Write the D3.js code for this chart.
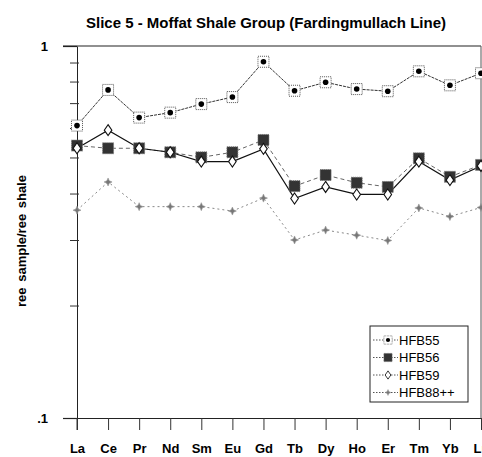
<!DOCTYPE html>
<head>
<meta charset="utf-8">
<script src="https://cdn.jsdelivr.net/npm/d3@7"></script>
<style>
body { margin: 0; background: #fff; }
text { font-family: "Liberation Sans", Arial, sans-serif; }
</style>
</head>
<svg width="482" height="457"></svg>
<script>
// rare earth elements along the x axis
var elements = ["La","Ce","Pr","Nd","Sm","Eu","Gd","Tb","Dy","Ho","Er","Tm","Yb","Lu"];

// ree sample / ree shale
var hfb55  = [0.611,0.762,0.642,0.662,0.698,0.729,0.907,0.758,0.799,0.766,0.756,0.855,0.784,0.845];
var hfb56  = [0.540,0.531,0.531,0.518,0.502,0.518,0.559,0.420,0.450,0.429,0.418,0.499,0.445,0.479];
var hfb59  = [0.531,0.594,0.531,0.518,0.489,0.489,0.529,0.389,0.418,0.399,0.399,0.489,0.436,0.476];
var hfb88  = [0.362,0.431,0.370,0.370,0.370,0.360,0.390,0.301,0.320,0.310,0.300,0.367,0.348,0.368];

var seriesNames = ["HFB55","HFB56","HFB59","HFB88++"];
var majorTicks = [0.1, 1];
var minorTicks = [0.2,0.3,0.4,0.5,0.6,0.7,0.8,0.9];

var svg = d3.select("svg"),
    plotL = 77, plotR = 481, plotT = 46, plotB = 418;

var x = d3.scalePoint().domain(elements).range([plotL, plotR]);
var y = d3.scaleLog().domain([0.1, 1]).range([plotB, plotT]);

var series = [
  {name: seriesNames[0], values: hfb55, dash: "3,1", stroke: "#333", width: 1, marker: "sqdot"},
  {name: seriesNames[1], values: hfb56, dash: "4,3", stroke: "#666", width: 1, marker: "sqfill"},
  {name: seriesNames[2], values: hfb59, dash: null,  stroke: "#111", width: 1.2, marker: "diamond"},
  {name: seriesNames[3], values: hfb88, dash: "2,3", stroke: "#888", width: 1, marker: "star"}
];

// title
svg.append("text")
  .attr("x", 266).attr("y", 28)
  .attr("text-anchor", "middle")
  .attr("font-size", 15).attr("font-weight", "bold")
  .text("Slice 5 - Moffat Shale Group (Fardingmullach Line)");

// y label
svg.append("text")
  .attr("transform", "translate(26,241) rotate(-90)")
  .attr("text-anchor", "middle")
  .attr("font-size", 13).attr("font-weight", "bold")
  .attr("word-spacing", 2)
  .text("ree sample/ree shale");

// frame top + right
svg.append("line").attr("x1", 63).attr("x2", plotR).attr("y1", plotT).attr("y2", plotT)
  .attr("stroke", "#222").attr("stroke-width", 1.2);
svg.append("line").attr("x1", plotR).attr("x2", plotR).attr("y1", plotT).attr("y2", plotB)
  .attr("stroke", "#555");

// x axis
var xa = svg.append("g")
  .attr("transform", "translate(0," + plotB + ")")
  .call(d3.axisBottom(x).tickSizeInner(12).tickSizeOuter(0).tickPadding(14));
xa.select(".domain").attr("stroke", "#222").attr("stroke-width", 1.2);
xa.selectAll(".tick line").attr("stroke", "#333");
xa.selectAll("text").attr("font-size", 13).attr("font-weight", "bold").attr("fill", "#000");

// y axis majors
var ya = svg.append("g")
  .attr("transform", "translate(" + plotL + ",0)")
  .call(d3.axisLeft(y).tickValues(majorTicks).tickSizeInner(14).tickSizeOuter(0).tickPadding(15)
    .tickFormat(function(d) { return d === 1 ? "1" : ".1"; }));
ya.select(".domain").attr("stroke", "#222");
ya.selectAll(".tick line").attr("stroke", "#222").attr("stroke-width", 1.2);
ya.selectAll("text").attr("font-size", 13).attr("font-weight", "bold").attr("fill", "#000");

// left axis extends down to the La tick
svg.append("line").attr("x1", plotL).attr("x2", plotL).attr("y1", plotB).attr("y2", plotB + 12)
  .attr("stroke", "#333");

// minor ticks crossing the axis
svg.append("g").selectAll("line")
  .data(minorTicks).enter().append("line")
  .attr("x1", plotL - 7).attr("x2", plotL + 2)
  .attr("y1", function(d) { return y(d); }).attr("y2", function(d) { return y(d); })
  .attr("stroke", "#333");

function drawMarker(g, type) {
  if (type === "sqdot") {
    g.append("rect").attr("x", -5.5).attr("y", -5.5).attr("width", 11).attr("height", 11)
      .attr("fill", "#fff").attr("stroke", "#555").attr("stroke-dasharray", "1,1");
    g.append("circle").attr("r", 2.8).attr("fill", "#000");
  } else if (type === "sqfill") {
    g.append("rect").attr("x", -5.5).attr("y", -5.5).attr("width", 11).attr("height", 11)
      .attr("fill", "#333").attr("stroke", "#777").attr("stroke-dasharray", "1,1");
  } else if (type === "diamond") {
    g.append("path").attr("d", "M0,-5.5L3.8,0L0,5.5L-3.8,0Z")
      .attr("fill", "#fff").attr("stroke", "#111").attr("stroke-width", 1.1);
  } else {
    g.append("path").attr("d", "M0,-4L1.2,-1.2L4,0L1.2,1.2L0,4L-1.2,1.2L-4,0L-1.2,-1.2Z")
      .attr("fill", "#777").attr("stroke", "#999").attr("stroke-width", 0.6);
  }
}

var line = d3.line()
  .x(function(d, i) { return x(elements[i]); })
  .y(function(d) { return y(d); });

// lines first, markers after
series.forEach(function(s) {
  svg.append("path")
    .datum(s.values)
    .attr("d", line)
    .attr("fill", "none")
    .attr("stroke", s.stroke)
    .attr("stroke-width", s.width)
    .attr("stroke-dasharray", s.dash);
});
series.forEach(function(s) {
  svg.append("g").selectAll("g")
    .data(s.values).enter().append("g")
    .attr("transform", function(d, i) { return "translate(" + x(elements[i]) + "," + y(d) + ")"; })
    .each(function() { drawMarker(d3.select(this), s.marker); });
});

// legend
var legend = svg.append("g").attr("transform", "translate(370,326)");
legend.append("rect").attr("width", 98).attr("height", 76)
  .attr("fill", "#fff").attr("stroke", "#222");
var items = legend.selectAll("g.item").data(series).enter().append("g")
  .attr("class", "item")
  .attr("transform", function(d, i) { return "translate(0," + (14 + i * 17.5) + ")"; });
items.append("line").attr("x1", 3).attr("x2", 28).attr("y1", 0).attr("y2", 0)
  .attr("stroke", "#555").attr("stroke-dasharray", "1.5,1.5");
items.append("g").attr("transform", "translate(18,0) scale(0.75)")
  .each(function(d) { drawMarker(d3.select(this), d.marker); });
items.append("text").attr("x", 29).attr("y", 0).attr("dy", "0.36em")
  .attr("font-size", 13).text(function(d) { return d.name; });
</script>
